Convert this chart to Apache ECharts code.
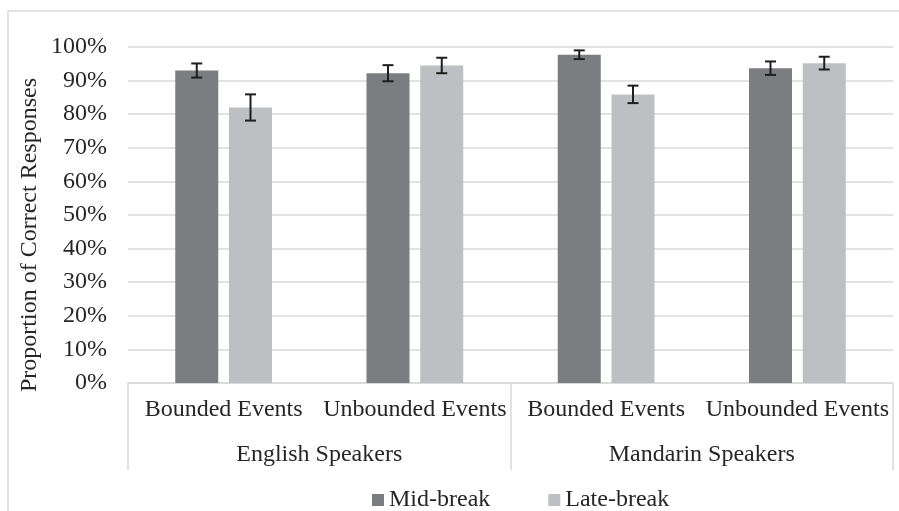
<!DOCTYPE html>
<html>
<head>
<meta charset="utf-8">
<script src="https://cdn.jsdelivr.net/npm/echarts@6/dist/echarts.min.js"></script>
<style>
  html, body { margin: 0; padding: 0; background: #fff; }
  #chart { width: 899px; height: 511px; }
</style>
</head>
<body>
<div id="chart"></div>
<script>
// Event types (inner level) and speaker groups (outer level)
const eventTypes = ['Bounded Events', 'Unbounded Events', 'Bounded Events', 'Unbounded Events'];
const speakerGroups = ['English Speakers', 'Mandarin Speakers'];

// Proportion correct per condition, with error margins
const midBreak = [0.930, 0.922, 0.977, 0.937];
const midBreakErr = [0.021, 0.024, 0.013, 0.020];
const lateBreak = [0.820, 0.945, 0.859, 0.952];
const lateBreakErr = [0.039, 0.023, 0.026, 0.019];

const yTicks = [0, 0.1, 0.2, 0.3, 0.4, 0.5, 0.6, 0.7, 0.8, 0.9, 1.0];

const FONT = "'Liberation Serif', 'Times New Roman', serif";
const TEXT = '#262626';
const GRID = '#d9d9d9';
const BAR_W = 43;
const BAR_GAP = 0.25;

function errorBars(offsetSign) {
  return function (params, api) {
    const idx = api.value(0);
    const val = api.value(1);
    const err = api.value(2);
    const shift = offsetSign * (BAR_W + BAR_W * BAR_GAP) / 2;
    const hi = api.coord([idx, val + err]);
    const lo = api.coord([idx, val - err]);
    const x = hi[0] + shift;
    const cap = 5.5;
    const style = { stroke: '#1e1e1e', lineWidth: 2 };
    return {
      type: 'group',
      children: [
        { type: 'line', shape: { x1: x, y1: hi[1], x2: x, y2: lo[1] }, style },
        { type: 'line', shape: { x1: x - cap, y1: hi[1], x2: x + cap, y2: hi[1] }, style },
        { type: 'line', shape: { x1: x - cap, y1: lo[1], x2: x + cap, y2: lo[1] }, style }
      ]
    };
  };
}

const chart = echarts.init(document.getElementById('chart'), null, { renderer: 'canvas' });

chart.setOption({
  animation: false,
  backgroundColor: '#fff',
  textStyle: { fontFamily: FONT, color: TEXT },
  grid: { left: 128, right: 6, top: 47, bottom: 128, containLabel: false },
  legend: {
    data: ['Mid-break', 'Late-break'],
    left: 367,
    top: 483,
    icon: 'rect',
    itemWidth: 12,
    itemHeight: 12,
    itemGap: 58,
    textStyle: { fontFamily: FONT, fontSize: 24, color: TEXT }
  },
  graphic: [
    {
      type: 'rect',
      shape: { x: 8, y: 11, width: 900, height: 520 },
      style: { fill: 'none', stroke: GRID, lineWidth: 1.5 },
      silent: true
    },
    {
      type: 'text',
      x: 30,
      y: 235,
      rotation: Math.PI / 2,
      style: {
        text: 'Proportion of Correct Responses',
        fontFamily: FONT,
        fontSize: 24,
        fill: TEXT,
        textAlign: 'center',
        textVerticalAlign: 'middle'
      }
    }
  ],
  xAxis: [
    {
      type: 'category',
      data: eventTypes,
      position: 'bottom',
      axisLine: { show: true, lineStyle: { color: GRID, width: 1.5 } },
      axisTick: { show: false },
      axisLabel: { interval: 0, fontFamily: FONT, fontSize: 24, color: TEXT, margin: 15 }
    },
    {
      type: 'category',
      data: speakerGroups,
      position: 'bottom',
      axisLine: { show: false },
      axisTick: { show: true, length: 87, lineStyle: { color: GRID, width: 1.5 } },
      axisLabel: { interval: 0, fontFamily: FONT, fontSize: 24, color: TEXT, margin: 60 }
    }
  ],
  yAxis: {
    type: 'value',
    min: yTicks[0],
    max: yTicks[yTicks.length - 1],
    interval: 0.1,
    axisLine: { show: false },
    axisTick: { show: false },
    splitLine: { lineStyle: { color: GRID, width: 1.5 } },
    axisLabel: {
      fontFamily: FONT,
      fontSize: 24,
      color: TEXT,
      margin: 21,
      formatter: v => Math.round(v * 100) + '%'
    }
  },
  series: [
    {
      name: 'Mid-break',
      type: 'bar',
      data: midBreak,
      barWidth: BAR_W,
      barGap: (BAR_GAP * 100) + '%',
      itemStyle: { color: '#7c7d81' }
    },
    {
      name: 'Late-break',
      type: 'bar',
      data: lateBreak,
      barWidth: BAR_W,
      barGap: (BAR_GAP * 100) + '%',
      itemStyle: { color: '#bebfc2' }
    },
    {
      name: 'Mid-break error',
      type: 'custom',
      renderItem: errorBars(-1),
      data: midBreak.map((v, i) => [i, v, midBreakErr[i]]),
      encode: { x: 0, y: 1 },
      z: 10
    },
    {
      name: 'Late-break error',
      type: 'custom',
      renderItem: errorBars(1),
      data: lateBreak.map((v, i) => [i, v, lateBreakErr[i]]),
      encode: { x: 0, y: 1 },
      z: 10
    }
  ]
});
</script>
</body>
</html>
